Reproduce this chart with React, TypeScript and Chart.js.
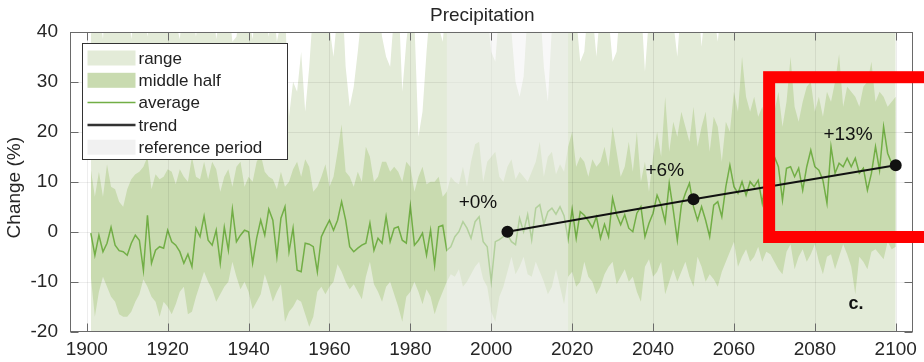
import React, { useEffect, useRef } from "react";
import { Chart, registerables } from "chart.js";

Chart.register(...registerables);

// ---------- data (one value per year, 1901 … 2100) ----------
const FIRST_YEAR = 1901;

const avg = [
  -0.3, -4.7, -0.7, -4.0, -2.3, 0.9, -2.7, -3.8, -4.0, -4.7,
  -2.3, -0.7, -1.7, -7.7, 3.3, -6.3, -3.7, -3.0, -3.3, 0.3,
  -2.0, -2.7, -4.0, -6.3, -4.5, -7.0, 0.7, -1.0, 3.1, -1.7,
  -2.7, 0.3, -6.3, 0.9, -3.7, 4.5, -2.0, -0.7, 0.3, 0.0,
  -6.3, -1.3, 2.3, -0.7, 4.5, 2.3, -5.0, 2.7, 5.0, -4.0,
  0.7, -7.7, -8.0, -2.3, -2.5, -3.0, -8.0, -1.0, 0.7, 2.3,
  0.3, 2.3, 6.0, 2.3, -3.0, -4.0, -3.3, -2.7, -2.3, 1.7,
  -3.7, -1.3, -2.3, 3.0, -2.0, 0.7, 1.0, -1.7, -2.3, 5.1,
  -2.7, -1.7, -0.3, -4.7, 0.3, -6.7, 1.0, 1.3, -3.7, -3.0,
  -1.0, 0.0, 2.0, 0.7, -1.3, 2.0, 3.0, -2.0, -3.0, -10.0,
  -2.0, -1.6, -1.0, -0.6, -2.0, -2.6, 2.7, 0.0, 3.4, -1.6,
  4.7, 5.4, 1.5, 4.0, 4.7, 3.5, 5.0, 3.2, -1.5, 4.5,
  -1.3, 4.0, 3.3, 2.2, 0.8, 3.0, -1.3, 1.5, -1.0, 6.7,
  3.4, 1.4, 3.4, 0.7, 0.0, 3.7, 5.0, -1.0, 1.7, 3.7,
  7.3, 5.3, 2.0, 9.7, 4.3, -1.7, 5.3, 7.7, 9.7, 5.0,
  2.3, 5.0, 2.3, -1.0, 5.3, 6.0, 3.0, 9.0, 13.3, 9.0,
  7.7, 10.0, 7.3, 10.0, 9.0, 10.3, 5.7, 11.0, 8.0, 15.0,
  13.0, 6.3, 12.7, 13.0, 11.0, 12.7, 8.3, 13.0, 16.3, 13.0,
  12.3, 10.3, 5.7, 17.0, 11.7, 13.7, 13.0, 14.7, 13.0, 14.7,
  11.7, 12.7, 8.3, 11.7, 17.0, 12.3, 21.0, 15.7, 13.7, 13.3,
];

const midHi = [
  12.5, 7, 12, 7, 13.5, 9, 8.5, 6, 5, 8.5,
  10.5, 11.5, 12, 13, 15, 8.5, 11.5, 10.5, 11, 12.5,
  12, 9.5, 12.5, 11, 10, 15, 11, 10.5, 14, 10.5,
  14, 12.5, 8, 11, 12.5, 9, 13, 14, 9, 11,
  10, 14, 15.5, 12, 11, 10.5, 8.5, 12, 9, 10,
  12.5, 14, 11, 14.5, 13, 8, 9, 11, 13.5, 9,
  11, 16, 21.5, 12, 11, 9, 12, 10, 17, 15,
  10, 11, 14, 14, 12, 13, 12, 10, 14, 13,
  8, 11, 13, 9.5, 10, 10, 11, 7, 8, 11,
  10, 9.5, 13, 9, 14, 17.5, 18, 10, 14, 15,
  16, 11, 10, 13, 14.5, 10.5, 12, 11, 10, 12,
  14, 18, 11, 15, 16, 11.5, 13.5, 12, 17, 20,
  13, 15, 14, 11, 14.5, 13, 14, 17, 13, 21,
  16, 11, 13, 18, 12, 20, 10, 14, 8, 15,
  20, 15, 27, 16, 22, 19, 24, 21, 18, 25,
  17, 21, 24, 16, 23, 21, 14, 22, 20, 28,
  24, 35, 27, 24, 27, 23, 25, 22, 26, 24,
  28, 21, 26, 35, 25, 22, 26, 29, 30, 24,
  27, 23, 28, 26, 30, 35.5, 25, 29, 28, 27,
  25, 29, 30, 34, 26, 28, 27, 25, 26, 27,
];

const midLo = [
  -9, -17, -12, -9, -11, -13, -14, -16.5, -17, -17,
  -16, -14, -12.5, -9.5, -11, -13, -14, -17, -14, -15,
  -16.5, -14.5, -12, -11, -16.5, -16, -13, -10.5, -8, -10,
  -11.5, -14, -12.5, -11, -10, -6, -9, -11.5, -10, -12,
  -15.5, -14, -12.5, -8.5, -11, -14, -12, -10.5, -18, -16,
  -15, -13.5, -14, -16.5, -19, -17, -12, -11, -12.5, -11,
  -10, -6.5, -8, -10, -11.5, -10.5, -12, -13.5, -9, -6,
  -10.5, -12, -14, -11, -10, -12.5, -15, -18, -13, -12,
  -10, -12, -14.5, -11.5, -13, -16.5, -14, -12, -10, -8.5,
  -9, -7.5, -11, -10, -8.5, -7, -6, -9.5, -11, -16,
  -18, -13, -11, -8, -5, -8.5, -7, -5, -8.5, -9,
  -6, -8, -10, -12.5, -11, -7.5, -11, -14.5, -9, -8,
  -11, -10, -6, -9, -10, -12.5, -11, -8.5, -7, -6,
  -10.5, -9, -7.5, -10, -9, -12, -14, -7, -5.5, -9,
  -8, -6, -12.5, -10, -7.5, -10, -8, -6, -9, -11,
  -5, -7, -10, -8.5, -9.5, -11, -8, -6, -4, -2,
  -7, -5, -3.5, -6, -5, -3, -6, -4, -4.5, -6,
  -7.5, -8.5, -4, -2.5, -7.5, -5, -3.5, -6, -4.5, -2.5,
  -6, -8.5, -5, -4.5, -7.5, -5, -2.5, -4.5, -7, -12.5,
  -5, -6, -7.5, -4, -3.5, -4.5, -5.5, -2, -3.5, -3,
];

const rangeHi = [
  39, 48, 45, 38.5, 52, 46, 44, 50, 43, 47,
  38.5, 45, 51, 44, 39, 48, 46, 53, 44, 47,
  45, 42, 38.5, 47, 50, 44, 39, 46, 52, 45,
  48, 38.5, 44, 50, 46, 38, 39, 45, 48, 43,
  38.5, 47, 51, 44, 39, 46, 38, 42, 45, 23,
  30, 28, 36, 24, 33, 45, 48, 42, 46, 41,
  35, 44, 50, 33, 25, 29, 36, 44, 47, 43,
  41, 46, 39, 35, 33, 44, 48, 28, 38, 45,
  42, 19, 24, 36, 46, 43, 41, 38, 47, 44,
  49, 43, 46, 42, 45, 51, 48, 41, 44, 36,
  34, 45, 47, 43, 40, 30, 27, 31, 44, 48,
  42, 46, 33, 26, 41, 47, 44, 49, 45, 52,
  43, 34, 36, 46, 44, 35, 45, 48, 43, 34,
  36, 47, 45, 42, 48, 44, 46, 32, 43, 47,
  51, 45, 48, 44, 42, 35, 46, 49, 45, 50,
  47, 37, 46, 52, 44, 38, 46, 49, 45, 51,
  55, 53, 48, 50, 46, 52, 49, 47, 53, 50,
  48, 54, 51, 56, 49, 47, 52, 50, 55, 48,
  51, 47, 53, 50, 54, 58, 49, 52, 50, 47,
  53, 51, 49, 55, 52, 48, 54, 50, 47, 49,
];

const rangeLo = [
  -31, -38, -27, -34, -29, -41, -33, -36, -28, -39,
  -35, -30, -42, -37, -26, -33, -40, -44, -31, -36,
  -38, -29, -34, -41, -36, -43, -28, -32, -27, -35,
  -33, -39, -30, -28, -36, -25, -34, -37, -32, -40,
  -42, -35, -31, -27, -33, -38, -36, -29, -45, -39,
  -37, -34, -41, -38, -46, -40, -33, -30, -35, -31,
  -28, -26, -30, -33, -37, -32, -35, -39, -29, -25,
  -31, -36, -40, -33, -30, -35, -41, -44, -37, -33,
  -29, -34, -38, -32, -36, -42, -39, -35, -30, -27,
  -30, -26, -33, -31, -28, -25, -24, -29, -34, -41,
  -44, -36, -32, -27, -24, -29, -26, -25, -30, -31,
  -27, -28, -33, -36, -34, -28, -32, -38, -30, -29,
  -34, -31, -26, -30, -33, -37, -34, -29, -27, -25,
  -32, -30, -28, -31, -29, -35, -38, -27, -25, -30,
  -28, -26, -34, -32, -27, -31, -29, -26, -30, -33,
  -25, -27, -31, -29, -30, -33, -28, -26, -24, -22,
  -27, -24, -23, -26, -25, -22, -26, -24, -25, -27,
  -28, -30, -24, -22, -28, -25, -23, -26, -24, -22,
  -26, -29, -25, -24, -28, -25, -22, -24, -27, -33,
  -25, -26, -28, -24, -23, -25, -26, -22, -24, -23,
];

const years = avg.map((_, i) => FIRST_YEAR + i);

const trendYears = [2004, 2050, 2100];
const trendValues = [0, 6.5, 13.3];
const trendLabels = ["+0%", "+6%", "+13%"];
const trendLabelYears = [1996.7, 2042.9, 2088.2];
const trendLabelValues = [5.7, 12.1, 19.3];

const panelTag = "c.";
const panelTagYear = 2090.2;
const panelTagValue = -14.5;

const refPeriod = [1989, 2019];
const xTicks = [1900, 1920, 1940, 1960, 1980, 2000, 2020, 2040, 2060, 2080, 2100];
const yTicks = [-20, -10, 0, 10, 20, 30, 40];
const xMin = 1895.85;
const xMax = 2104.15;

const highlightYears = [2068.7, 2130];
const highlightValues = [-1.06, 30.9];

const titleText = "Precipitation";
const yTitleText = "Change (%)";
const legendLabels = ["range", "middle half", "average", "trend", "reference period"];

// ---------- styles ----------
const FONT = '"Liberation Sans", Arial, Helvetica, sans-serif';
const TEXT = "#262626";
const RANGE_COLOR = "rgb(227,235,216)";
const MID_COLOR = "rgb(201,219,176)";
const AVG_COLOR = "#72ae46";
const TREND_COLOR = "#111111";
const REF_COLOR = "rgba(242,242,242,0.5)";
const REF_SWATCH = "rgb(241,241,241)";

const pts = (vals: number[]) => vals.map((v, i) => ({ x: years[i], y: v }));

const AVG_INDEX = 4;

const decorPlugin = {
  id: "decor",
  afterDatasetDraw(chart: any, args: any) {
    if (args.index !== AVG_INDEX) return;
    const { ctx, chartArea: ca, scales } = chart;
    const x = scales.x;
    const y = scales.y;
    ctx.save();
    ctx.beginPath();
    ctx.rect(ca.left, ca.top, ca.right - ca.left, ca.bottom - ca.top);
    ctx.clip();
    // grid
    ctx.strokeStyle = "rgba(0,0,0,0.07)";
    ctx.lineWidth = 1;
    for (const t of xTicks) {
      const px = Math.round(x.getPixelForValue(t)) + 0.5;
      ctx.beginPath();
      ctx.moveTo(px, ca.top);
      ctx.lineTo(px, ca.bottom);
      ctx.stroke();
    }
    for (const t of yTicks) {
      const py = Math.round(y.getPixelForValue(t)) + 0.5;
      ctx.beginPath();
      ctx.moveTo(ca.left, py);
      ctx.lineTo(ca.right, py);
      ctx.stroke();
    }
    // reference period overlay
    const x0 = x.getPixelForValue(refPeriod[0]);
    const x1 = x.getPixelForValue(refPeriod[1]);
    ctx.fillStyle = REF_COLOR;
    ctx.fillRect(x0, ca.top, x1 - x0, ca.bottom - ca.top);
    ctx.restore();
  },
  afterDraw(chart: any) {
    const { ctx, chartArea: ca, scales, width } = chart;
    const x = scales.x;
    const y = scales.y;
    ctx.save();

    // frame + inward ticks
    ctx.strokeStyle = "#6a6a6a";
    ctx.lineWidth = 1;
    const L = Math.round(ca.left) + 0.5;
    const R = Math.round(ca.right) - 0.5;
    const T = Math.round(ca.top) + 0.5;
    const B = Math.round(ca.bottom) - 0.5;
    ctx.strokeRect(L, T, R - L, B - T);
    const tl = 8;
    ctx.beginPath();
    for (const t of xTicks) {
      const px = Math.round(x.getPixelForValue(t)) + 0.5;
      ctx.moveTo(px, B);
      ctx.lineTo(px, B - tl);
      ctx.moveTo(px, T);
      ctx.lineTo(px, T + tl);
    }
    for (const t of yTicks) {
      const py = Math.round(y.getPixelForValue(t)) + 0.5;
      ctx.moveTo(L, py);
      ctx.lineTo(L + tl, py);
      ctx.moveTo(R, py);
      ctx.lineTo(R - tl, py);
    }
    ctx.stroke();

    // title
    ctx.fillStyle = TEXT;
    ctx.font = `19px ${FONT}`;
    ctx.textAlign = "center";
    ctx.textBaseline = "middle";
    ctx.fillText(titleText, (ca.left + ca.right) / 2 - 9, ca.top - 16);

    // y-axis title
    ctx.save();
    ctx.translate(15, (ca.top + ca.bottom) / 2 + 6);
    ctx.rotate(-Math.PI / 2);
    ctx.fillText(yTitleText, 0, 0);
    ctx.restore();

    // trend labels
    ctx.fillStyle = "#111";
    ctx.font = `19px ${FONT}`;
    trendLabels.forEach((s, i) => {
      ctx.fillText(s, x.getPixelForValue(trendLabelYears[i]), y.getPixelForValue(trendLabelValues[i]));
    });
    ctx.font = `bold 18px ${FONT}`;
    ctx.fillText(panelTag, x.getPixelForValue(panelTagYear), y.getPixelForValue(panelTagValue));

    // legend
    const lx = Math.round(ca.left) + 12.5;
    const ly = Math.round(ca.top) + 11.5;
    const lw = 205;
    const lh = 116;
    ctx.fillStyle = "#ffffff";
    ctx.fillRect(lx, ly, lw, lh);
    ctx.strokeStyle = "#333";
    ctx.lineWidth = 1;
    ctx.strokeRect(lx, ly, lw, lh);
    const sx = lx + 5;
    const sw = 48;
    ctx.font = `17px ${FONT}`;
    ctx.textAlign = "left";
    legendLabels.forEach((s, i) => {
      const cy = ly + 14.5 + i * 22.3;
      if (i === 0 || i === 1 || i === 4) {
        ctx.fillStyle = i === 0 ? RANGE_COLOR : i === 1 ? MID_COLOR : REF_SWATCH;
        ctx.fillRect(sx, cy - 7.5, sw, 15);
      } else {
        ctx.strokeStyle = i === 2 ? AVG_COLOR : "#333";
        ctx.lineWidth = i === 2 ? 1.5 : 2.5;
        ctx.beginPath();
        ctx.moveTo(sx, cy);
        ctx.lineTo(sx + sw, cy);
        ctx.stroke();
      }
      ctx.fillStyle = "#222";
      ctx.fillText(s, sx + sw + 3, cy + 1);
    });

    // red highlight box
    ctx.strokeStyle = "#ff0000";
    ctx.lineWidth = 12;
    const bx0 = x.getPixelForValue(highlightYears[0]);
    const bx1 = Math.max(x.getPixelForValue(highlightYears[1]), width + 20);
    const by0 = y.getPixelForValue(highlightValues[1]);
    const by1 = y.getPixelForValue(highlightValues[0]);
    ctx.strokeRect(bx0, by0, bx1 - bx0, by1 - by0);

    ctx.restore();
  },
};

export default function App() {
  const ref = useRef<HTMLCanvasElement | null>(null);

  useEffect(() => {
    document.body.style.margin = "0";
    if (!ref.current) return;
    const chart = new Chart(ref.current, {
      type: "line",
      data: {
        datasets: [
          { label: "rangeHi", order: 6, data: pts(rangeHi), borderWidth: 0, borderColor: "transparent", pointRadius: 0, fill: false },
          { label: "range", order: 5, data: pts(rangeLo), borderWidth: 0, borderColor: "transparent", pointRadius: 0, fill: "-1", backgroundColor: RANGE_COLOR },
          { label: "midHi", order: 4, data: pts(midHi), borderWidth: 0, borderColor: "transparent", pointRadius: 0, fill: false },
          { label: "middle half", order: 3, data: pts(midLo), borderWidth: 0, borderColor: "transparent", pointRadius: 0, fill: "-1", backgroundColor: MID_COLOR },
          { label: "average", order: 2, data: pts(avg), borderWidth: 1.5, borderColor: AVG_COLOR, pointRadius: 0, fill: false },
          {
            label: "trend",
            order: 1,
            data: trendYears.map((t, i) => ({ x: t, y: trendValues[i] })),
            borderWidth: 2,
            borderColor: TREND_COLOR,
            pointRadius: 5,
            pointBackgroundColor: TREND_COLOR,
            pointBorderColor: TREND_COLOR,
            fill: false,
            clip: false,
          },
        ],
      } as any,
      options: {
        animation: false,
        responsive: true,
        maintainAspectRatio: false,
        layout: { padding: { top: 31.7, right: 2, bottom: 0, left: 0 } },
        elements: { line: { tension: 0 } },
        plugins: {
          legend: { display: false },
          title: { display: false },
          tooltip: { enabled: false },
          filler: { propagate: false },
        },
        scales: {
          x: {
            type: "linear",
            min: xMin,
            max: xMax,
            afterBuildTicks: (s: any) => {
              s.ticks = xTicks.map((v) => ({ value: v }));
            },
            afterFit: (s: any) => {
              s.height = 30.3;
            },
            grid: { display: false, drawTicks: false },
            border: { display: false },
            ticks: {
              font: { family: FONT, size: 19 },
              color: TEXT,
              padding: 7,
              maxRotation: 0,
              autoSkip: false,
              callback: (v: any) => String(v),
            },
          },
          y: {
            type: "linear",
            min: -20,
            max: 40,
            afterBuildTicks: (s: any) => {
              s.ticks = yTicks.map((v) => ({ value: v }));
            },
            afterFit: (s: any) => {
              s.width = 70;
            },
            grid: { display: false, drawTicks: false },
            border: { display: false },
            ticks: {
              font: { family: FONT, size: 19 },
              color: TEXT,
              padding: 12,
              autoSkip: false,
              callback: (v: any) => String(v),
            },
          },
        },
      } as any,
      plugins: [decorPlugin],
    });
    return () => chart.destroy();
  }, []);

  return (
    <div style={{ position: "relative", width: 924, height: 362 }}>
      <canvas ref={ref} />
    </div>
  );
}
